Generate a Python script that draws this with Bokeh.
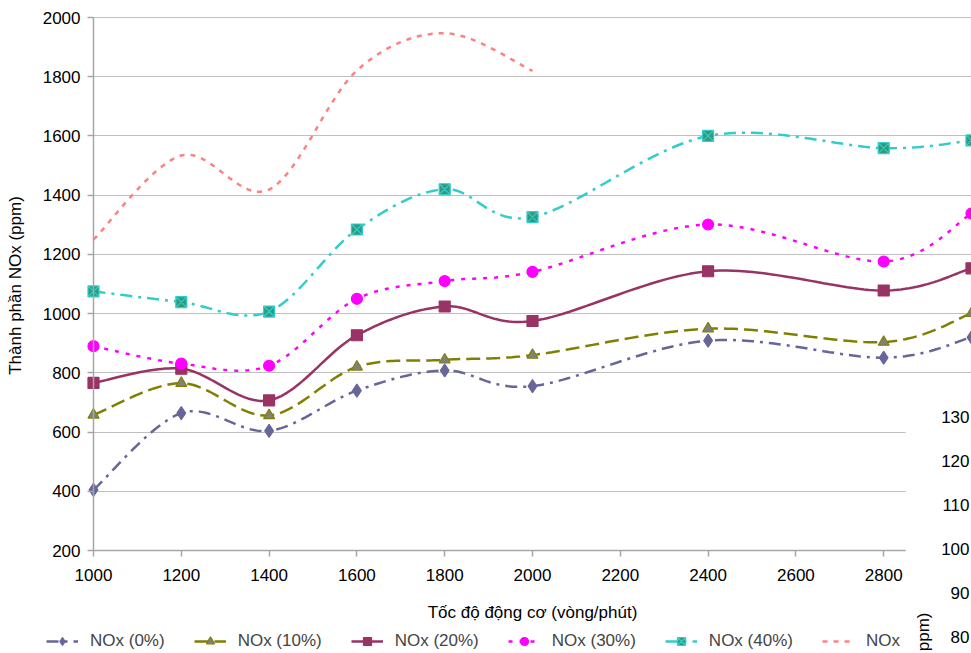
import numpy as np
from bokeh.plotting import figure
from bokeh.models import (Range1d, FixedTicker, Legend, LegendItem,
                          BoxAnnotation, Label, ColumnDataSource)
from bokeh.embed import file_html
from bokeh.resources import INLINE

# Engine speed (rpm) and NOx concentration (ppm) for each blend ratio
rpm = [1000, 1200, 1400, 1600, 1800, 2000, 2400, 2800, 3000]
nox_0 = [405, 664, 604, 740, 808, 755, 909, 851, 920]
nox_10 = [658, 765, 656, 820, 844, 860, 949, 904, 1001]
nox_20 = [766, 814, 707, 927, 1024, 975, 1143, 1078, 1153]
nox_30 = [890, 831, 824, 1050, 1110, 1141, 1301, 1176, 1338]
nox_40 = [1075, 1039, 1007, 1284, 1420, 1326, 1600, 1559, 1585]
rpm_50 = [1000, 1200, 1400, 1600, 1800, 2000]
nox_50 = [1250, 1534, 1419, 1821, 1947, 1820]

x_ticks = [1000, 1200, 1400, 1600, 1800, 2000, 2200, 2400, 2600, 2800]
y_ticks = [200, 400, 600, 800, 1000, 1200, 1400, 1600, 1800, 2000]
side_ticks = [80, 90, 100, 110, 120, 130]

FONT = "Liberation Sans"
W, H = 971, 653
# plot box: x 1000..3000 over pixels 93..971, y 200..2000 over pixels 550..17
PX_X = 878 / 2000.0
PX_Y = 533 / 1800.0


def smooth(xs, ys, n=30):
    """Smoothed path through the points (cubic Bezier, Catmull-Rom tangents)."""
    pts = np.column_stack([xs, ys]).astype(float)
    out = [pts[0]]
    t = np.linspace(0, 1, n)[1:, None]
    for i in range(len(pts) - 1):
        p0 = pts[i - 1] if i > 0 else pts[i]
        p1, p2 = pts[i], pts[i + 1]
        p3 = pts[i + 2] if i + 2 < len(pts) else pts[i + 1]
        c1 = p1 + (p2 - p0) / 6.0
        c2 = p2 - (p3 - p1) / 6.0
        seg = ((1 - t) ** 3) * p1 + 3 * ((1 - t) ** 2) * t * c1 \
            + 3 * (1 - t) * (t ** 2) * c2 + (t ** 3) * p2
        out.extend(seg)
    out = np.array(out)
    return out[:, 0], out[:, 1]


def sx(px):
    return 1000 + (px - 93) / PX_X


def sy(py):
    return 200 + (550 - py) / PX_Y


p = figure(frame_width=W, frame_height=H,
           x_range=Range1d(sx(0), sx(W)), y_range=Range1d(sy(H), sy(0)),
           output_backend="svg", toolbar_location=None,
           min_border=0, min_border_left=0, min_border_right=0,
           min_border_top=0, min_border_bottom=0)
p.outline_line_color = None
p.background_fill_color = "white"
p.border_fill_color = "white"

# axes drawn at the data origin of the chart
p.xaxis.fixed_location = 200
p.yaxis.fixed_location = 1000
p.xaxis.ticker = FixedTicker(ticks=x_ticks)
p.yaxis.ticker = FixedTicker(ticks=y_ticks)
p.xaxis.bounds = (1000, 2850)
p.yaxis.bounds = (200, 2000)
for ax in (p.xaxis, p.yaxis):
    ax.axis_line_color = "#A6A6A6"
    ax.axis_line_width = 1.5
    ax.major_tick_line_color = "#A6A6A6"
    ax.major_tick_line_width = 1.5
    ax.major_tick_out = 6
    ax.major_tick_in = 0
    ax.minor_tick_line_color = None
    ax.major_label_text_font = FONT
    ax.major_label_text_font_size = "17px"
    ax.major_label_text_color = "#000000"
p.yaxis.major_label_standoff = 7
p.xaxis.major_label_standoff = 12

p.xgrid.visible = False
p.ygrid.ticker = FixedTicker(ticks=y_ticks)
p.ygrid.grid_line_color = "#BFBFBF"
p.ygrid.grid_line_width = 1.2

# blank out grid left of the value axis and the neighbouring panel's corner
p.add_layout(BoxAnnotation(right=1000, fill_color="white", fill_alpha=1.0,
                           line_alpha=0, level="underlay"))
p.add_layout(BoxAnnotation(left=2850, top=780, fill_color="white", fill_alpha=1.0,
                           line_alpha=0, level="underlay"))

# axis titles
p.add_layout(Label(x=2000, y=sy(612), text="Tốc độ động cơ (vòng/phút)",
                   text_align="center", text_baseline="middle",
                   text_font=FONT, text_font_size="17px", text_color="#000000"))
p.add_layout(Label(x=sx(15), y=sy(285), text="Thành phần NOx (ppm)", angle=np.pi / 2,
                   text_align="center", text_baseline="middle",
                   text_font=FONT, text_font_size="17px", text_color="#000000"))

series = [
    ("NOx (0%)", rpm, nox_0, "#666699", "12 6 3 6", "diamond", "#666699", "#666699", 13),
    ("NOx (10%)", rpm, nox_10, "#808000", "14 6", "triangle", "#808080", "#808000", 11),
    ("NOx (20%)", rpm, nox_20, "#993366", "solid", "square", "#993366", "#993366", 11),
    ("NOx (30%)", rpm, nox_30, "#FF00FF", "4 7", "circle", "#FF00FF", "#FF00FF", 11),
    ("NOx (40%)", rpm, nox_40, "#33CCCC", "12 6 3 6", "square_x", "#2E9C7C", "#33CCCC", 11),
]

items = []
for name, xs, ys, color, dash, marker, fill, edge, size in series:
    cx, cy = smooth(xs, ys)
    r_line = p.line(cx, cy, line_color=color, line_width=2.5, line_dash=dash)
    src = ColumnDataSource(dict(x=xs, y=ys))
    r_pts = p.scatter("x", "y", source=src, marker=marker, size=size,
                      fill_color=fill, line_color=edge, line_width=1.2)
    items.append(LegendItem(label=name, renderers=[r_line, r_pts]))

cx, cy = smooth(rpm_50, nox_50)
r50 = p.line(cx, cy, line_color="#FF8080", line_width=2.5, line_dash="5 6")
items.append(LegendItem(label="NOx", renderers=[r50]))

# value axis of the neighbouring chart, partly visible at the right edge
p.extra_y_ranges = {"side": Range1d(80 - (H - 636) / 4.4, 80 + 636 / 4.4)}
for v in side_ticks:
    p.add_layout(Label(x=sx(969), y=v, y_range_name="side", text=str(v),
                       text_align="right", text_baseline="middle",
                       text_font=FONT, text_font_size="17px", text_color="#000000"))
p.add_layout(Label(x=sx(923), y=sy(612), text="ppm)", angle=np.pi / 2,
                   text_align="right", text_baseline="middle",
                   text_font=FONT, text_font_size="17px", text_color="#000000"))

legend = Legend(items=items, orientation="horizontal", location=(46, 2),
                border_line_color=None, background_fill_alpha=0,
                label_text_font=FONT, label_text_font_size="17px",
                glyph_width=32, glyph_height=20, label_standoff=12,
                spacing=29, padding=0, margin=0)
p.add_layout(legend)

open("out.html", "w").write(file_html(p, INLINE))
